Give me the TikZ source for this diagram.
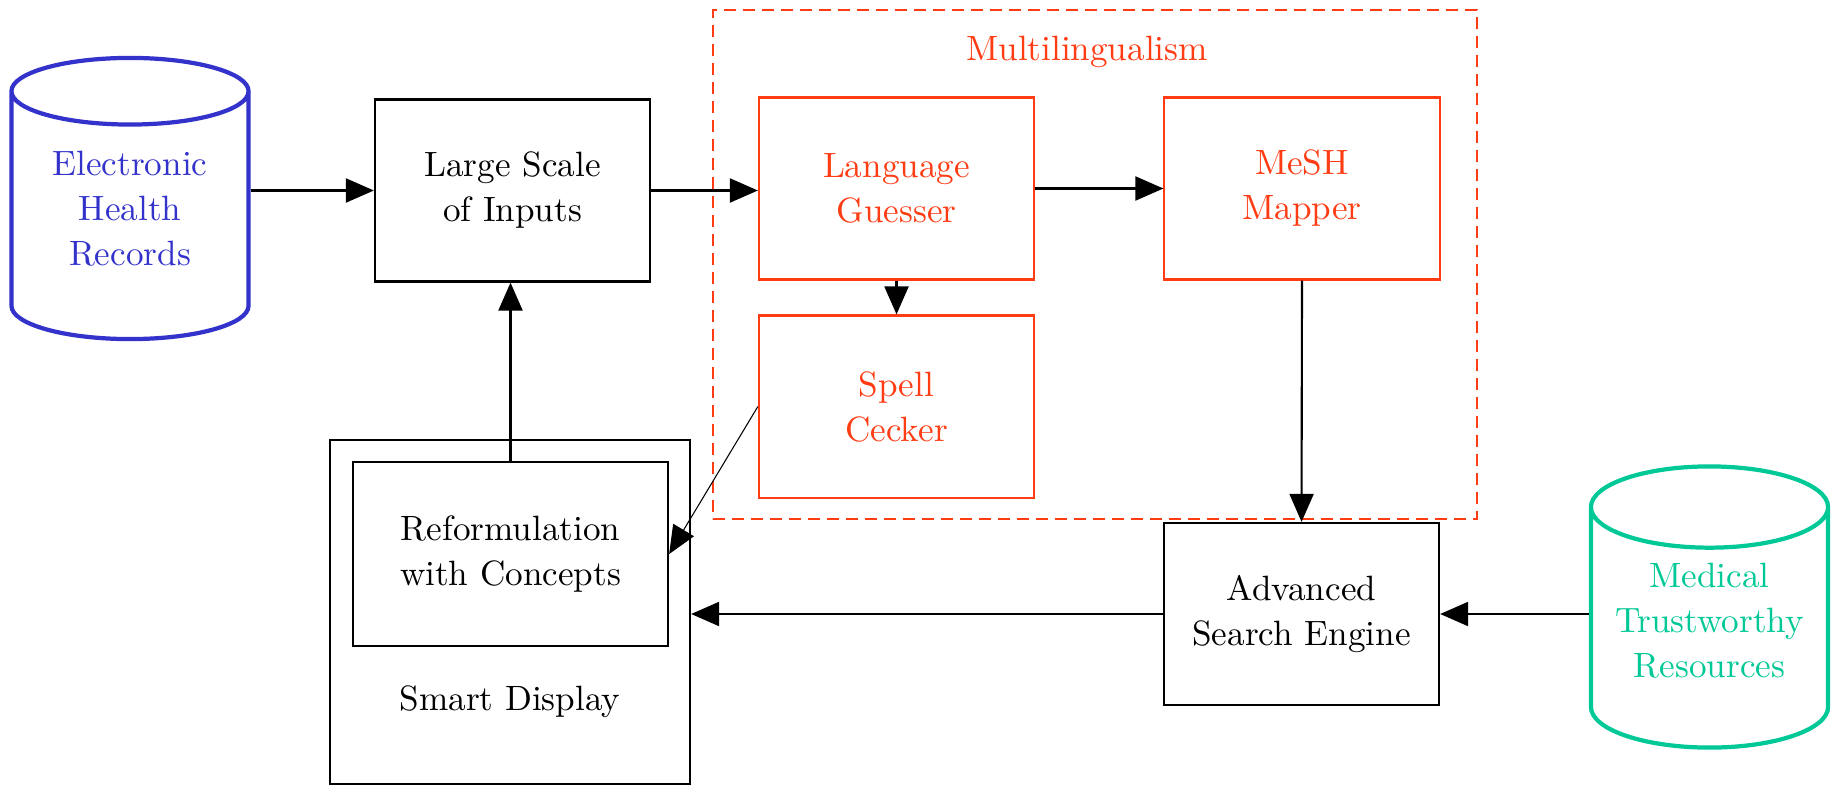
\documentclass[tikz,border=0pt]{standalone}
\usepackage{tikz}
\usetikzlibrary{arrows.meta,shapes.geometric,positioning}
\definecolor{ehrblue}{RGB}{51,51,204}
\definecolor{mlred}{RGB}{255,60,20}
\definecolor{resgreen}{RGB}{0,200,150}

\begin{document}
\begin{tikzpicture}[x=0.01cm,y=-0.01cm,
    txt/.style={align=center,font=\fontsize{10}{12.8}\selectfont},
    box/.style={txt,draw,line width=0.6pt,minimum width=2.75cm,minimum height=1.82cm,inner sep=0pt},
    redbox/.style={box,draw=mlred,text=mlred},
    db/.style={txt,cylinder,shape border rotate=90,aspect=0.43,draw,line width=1.2pt,
      minimum width=2.37cm,minimum height=2.81cm,inner sep=0pt,text depth=4.5pt,anchor=shape center},
    arr/.style={-{Triangle[length=2.8mm,width=2.4mm]},line width=0.6pt}]
  \useasboundingbox (0,0) rectangle (1831,785);
% data sources
  \node[db,draw=ehrblue,text=ehrblue] (ehr) at (130,198.5) {Electronic\\Health\\Records};
  \node[db,draw=resgreen,text=resgreen] (mtr) at (1709.5,607) {Medical\\Trustworthy\\Resources};
% multilingualism block
  \node[draw=mlred,line width=0.6pt,dash pattern=on 1.2mm off 0.7mm,minimum width=7.64cm,minimum height=5.09cm,inner sep=0pt] (multi) at (1095,264.5) {};
  \node[txt,text=mlred] (multilabel) at (1087,52) {Multilingualism};
  \node[redbox] (guess) at (896.5,188.5) {Language\\Guesser};
  \node[redbox] (mesh) at (1302,188.5) {MeSH\\Mapper};
  \node[redbox] (spell) at (896.5,406.5) {Spell\\Cecker};
% black boxes
  \node[box] (inputs) at (512.5,190.5) {Large Scale\\of Inputs};
  \node[box] (search) at (1301.5,614) {Advanced\\Search Engine};
  \node[box,minimum width=3.6cm,minimum height=3.44cm] (display) at (510,612) {};
  \node[box,minimum width=3.15cm,minimum height=1.84cm] (reform) at (510.5,554) {Reformulation\\with Concepts};
  \node[txt] (displaylabel) at (510,702) {Smart Display};
% connectors
  \draw[arr] (ehr.east |- inputs.west) -- (inputs.west);
  \draw[arr] (inputs.east) -- (inputs.east -| guess.west);
  \draw[arr] (guess.east) -- (mesh.west);
  \draw[arr] (guess.south) -- (spell.north);
  \draw[arr] (mesh.south) -- (search.north);
  \draw[arr,line width=0.3pt] (spell.west) -- (reform.east);
  \draw[arr] (reform.north) -- (reform.north |- inputs.south);
  \draw[arr] (search.west) -- (search.west -| display.east);
  \draw[arr] (mtr.west |- search.east) -- (search.east);
\end{tikzpicture}
\end{document}
